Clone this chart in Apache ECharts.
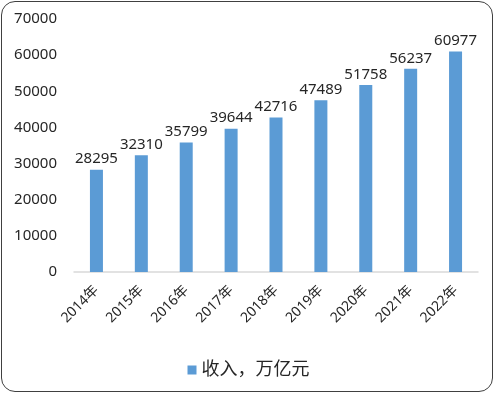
<!DOCTYPE html>
<html><head><meta charset="utf-8">
<script src="https://cdn.jsdelivr.net/npm/echarts@6/dist/echarts.min.js"></script>
<style>
html,body{margin:0;padding:0;background:#fff;}
#frame{position:absolute;left:1px;top:1px;width:492px;height:391px;border:1.5px solid #404040;border-radius:14px;box-sizing:border-box;}
#c{position:absolute;left:0;top:0;width:497px;height:396px;}
</style></head>
<body>
<div id="frame"></div>
<div id="c"></div>
<script>
const categories = ['2014年','2015年','2016年','2017年','2018年','2019年','2020年','2021年','2022年'];
const income = [28295,32310,35799,39644,42716,47489,51758,56237,60977];
const seriesName = '收入，万亿元';
const yMin = 0, yMax = 70000, yStep = 10000;

const font = '"Noto Sans", "Noto Sans CJK SC", sans-serif';
const txt = '#262626';
const chart = echarts.init(document.getElementById('c'));
chart.setOption({
  animation:false,
  grid:{left:74,right:19,top:19,bottom:124},
  legend:{
    data:[seriesName], left:'center', top:356, itemWidth:9, itemHeight:9, itemGap:5,
    icon:'rect',
    textStyle:{fontFamily:font,fontSize:18,color:txt}
  },
  xAxis:{
    type:'category', data:categories,
    axisLine:{lineStyle:{color:'#d9d9d9',width:1.5}},
    axisTick:{show:false},
    axisLabel:{rotate:45,fontFamily:font,fontSize:14,color:txt,margin:16,interval:0}
  },
  yAxis:{
    type:'value', min:yMin, max:yMax, interval:yStep,
    axisLine:{show:false}, axisTick:{show:false}, splitLine:{show:false},
    axisLabel:{fontFamily:font,fontSize:15,color:txt,margin:17,formatter:v=>String(v)}
  },
  series:[{
    name:seriesName, type:'bar', data:income, barWidth:13,
    itemStyle:{color:'#5B9BD5'},
    label:{show:true,position:'top',distance:3,fontFamily:font,fontSize:15,color:txt}
  }]
});
</script>
</body></html>
